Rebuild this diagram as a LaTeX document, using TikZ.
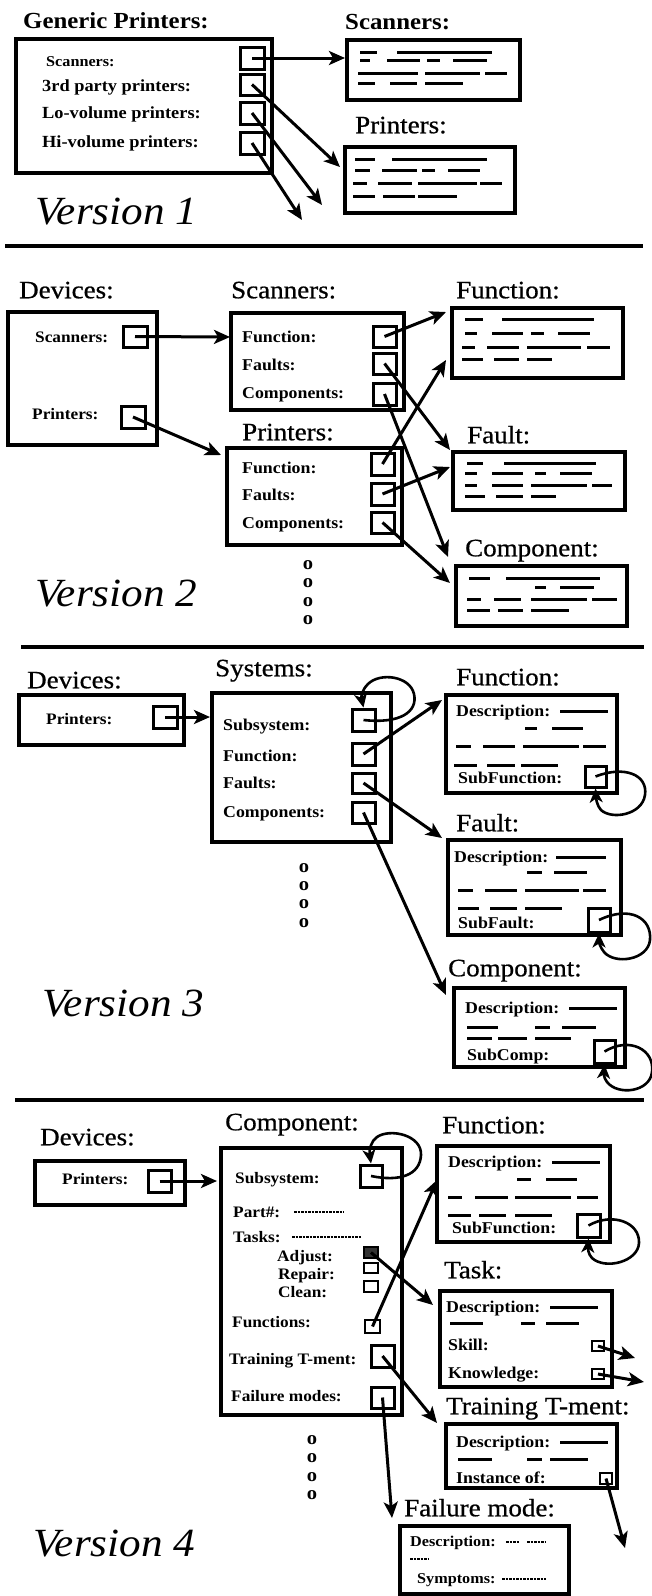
\documentclass[tikz,border=0pt]{standalone}
\usepackage{fontspec}
\setmainfont{Liberation Serif}[FakeStretch=1.08]
\newfontfamily\ttlfont{Liberation Serif}[FakeStretch=1.08, FakeBold=0.7]
\usetikzlibrary{arrows.meta,fit}
\newcommand\tlseg[3]{\draw[tl] (#1,#3) -- (#2,#3);}
\tikzset{
  box/.style={draw, line width=3.3pt, inner sep=0pt},
  sq/.style={draw, line width=3pt, inner sep=0pt},
  sqs/.style={draw, line width=2.6pt, inner sep=0pt},
  ttl/.style={anchor=west, inner sep=0pt, font=\fontsize{25}{25}\ttlfont, text height=18pt, text depth=1.5pt},
  ttlb/.style={anchor=west, inner sep=0pt, font=\fontsize{23}{23}\selectfont\bfseries, text height=16.5pt, text depth=1.5pt},
  lab/.style={anchor=west, inner sep=0pt, font=\fontsize{16.5}{16.5}\selectfont\bfseries, text height=12pt, text depth=1.5pt},
  labl/.style={anchor=west, inner sep=0pt, font=\fontsize{17}{17}\selectfont\bfseries, text height=12.5pt, text depth=1.5pt},
  labs/.style={anchor=west, inner sep=0pt, font=\fontsize{16}{16}\selectfont\bfseries, text height=11.5pt, text depth=1.5pt},
  labxs/.style={anchor=west, inner sep=0pt, font=\fontsize{15}{15}\selectfont\bfseries, text height=11pt, text depth=1.5pt},
  ver/.style={anchor=west, inner sep=0pt, font=\fontsize{40}{40}\selectfont\itshape, text height=28pt, text depth=1.5pt},
  odot/.style={inner sep=0pt, font=\fontsize{19}{19}\selectfont\bfseries},
  arr/.style={line width=3pt, -{Stealth[length=16pt,width=14pt,inset=4pt]}},
  selfarr/.style={line width=2.6pt, -{Stealth[length=14pt,width=13pt,inset=4pt]}},
  tl/.style={line width=3pt},
  dashln/.style={line width=1.4pt, dash pattern=on 2.5pt off 1pt},
  sepline/.style={line width=4.5pt},
}
\begin{document}
\begin{tikzpicture}[x=1pt,y=-1pt]
\useasboundingbox (0,0) rectangle (651,1596);
% ================= Version 1 =================
\node[ttlb] (v1gt) at (23,21) {Generic Printers:};
\node[ttlb] (v1st) at (345,22) {Scanners:};
\node[ttl] (v1pt) at (355,125) {Printers:};
\node[box, fit={(16,39)(272,173)}] (v1g) {};
\node[labxs] (v1l1) at (46,62) {Scanners:};
\node[labl] (v1l2) at (42,86) {3rd party printers:};
\node[labl] (v1l3) at (42,113) {Lo-volume printers:};
\node[labl] (v1l4) at (42,142) {Hi-volume printers:};
\node[sq, fit={(240,47)(264,69)}] (v1s1) {};
\node[sq, fit={(240,74)(264,95)}] (v1s2) {};
\node[sq, fit={(240,102)(264,124)}] (v1s3) {};
\node[sq, fit={(240,132)(264,154)}] (v1s4) {};
\node[box, fit={(347,40)(520,100)}] (v1sb) {};
\node[box, fit={(345,147)(515,213)}] (v1pb) {};
\tlseg{360}{377}{52}\tlseg{397}{492}{52}
\tlseg{360}{370}{60}\tlseg{387}{420}{60}\tlseg{427}{440}{60}\tlseg{453}{487}{60}
\tlseg{358}{418}{73}\tlseg{425}{480}{73}\tlseg{485}{507}{73}
\tlseg{358}{375}{83}\tlseg{390}{417}{83}\tlseg{425}{463}{83}
\tlseg{355}{375}{159}\tlseg{392}{487}{159}
\tlseg{355}{370}{170}\tlseg{382}{417}{170}\tlseg{422}{435}{170}\tlseg{448}{480}{170}
\tlseg{353}{367}{183}\tlseg{378}{412}{183}\tlseg{418}{477}{183}\tlseg{480}{502}{183}
\tlseg{353}{375}{196}\tlseg{383}{415}{196}\tlseg{418}{457}{196}
\coordinate (v1a1) at (345,58);
\coordinate (v1a2) at (340,167);
\coordinate (v1a3) at (322,205);
\coordinate (v1a4) at (302,220);
\draw[arr] (v1s1.center) -- (v1a1);
\draw[arr] (v1s2.center) -- (v1a2);
\draw[arr] (v1s3.center) -- (v1a3);
\draw[arr] (v1s4.center) -- (v1a4);
\node[ver] (v1v) at (35,211) {Version 1};
\draw[sepline] (5,246) -- (643,246);
% ================= Version 2 =================
\node[ttl] (v2dt) at (19,290) {Devices:};
\node[ttl] (v2st) at (231,290) {Scanners:};
\node[ttl] (v2ft) at (456,290) {Function:};
\node[ttl] (v2pt) at (242,432) {Printers:};
\node[ttl] (v2flt) at (467,435) {Fault:};
\node[ttl] (v2ct) at (465,548) {Component:};
\node[box, fit={(8,312)(157,445)}] (v2d) {};
\node[labs] (v2dl1) at (35,337) {Scanners:};
\node[labs] (v2dl2) at (32,414) {Printers:};
\node[sq, fit={(123,326)(147,347)}] (v2ds) {};
\node[sq, fit={(121,406)(145,428)}] (v2dp) {};
\node[box, fit={(231,313)(404,410)}] (v2s) {};
\node[lab] (v2sl1) at (242,337) {Function:};
\node[lab] (v2sl2) at (242,365) {Faults:};
\node[lab] (v2sl3) at (242,393) {Components:};
\node[sq, fit={(373,326)(396,347)}] (v2s1) {};
\node[sq, fit={(373,353)(396,374)}] (v2s2) {};
\node[sq, fit={(373,383)(396,405)}] (v2s3) {};
\node[box, fit={(227,448)(402,545)}] (v2p) {};
\node[lab] (v2pl1) at (242,468) {Function:};
\node[lab] (v2pl2) at (242,495) {Faults:};
\node[lab] (v2pl3) at (242,523) {Components:};
\node[sq, fit={(371,453)(394,475)}] (v2p1) {};
\node[sq, fit={(371,483)(394,505)}] (v2p2) {};
\node[sq, fit={(371,512)(394,533)}] (v2p3) {};
\node[box, fit={(452,308)(623,378)}] (v2f) {};
\node[box, fit={(453,452)(625,510)}] (v2fl) {};
\node[box, fit={(456,566)(627,626)}] (v2c) {};
\tlseg{465}{483}{319}\tlseg{502}{594}{319}
\tlseg{465}{477}{333}\tlseg{492}{523}{333}\tlseg{531}{544}{333}\tlseg{558}{590}{333}
\tlseg{462}{475}{347}\tlseg{487}{519}{347}\tlseg{527}{581}{347}\tlseg{587}{610}{347}
\tlseg{462}{483}{359}\tlseg{494}{519}{359}\tlseg{527}{552}{359}
\tlseg{467}{483}{463}\tlseg{504}{596}{463}
\tlseg{465}{477}{473}\tlseg{492}{523}{473}\tlseg{535}{546}{473}\tlseg{560}{592}{473}
\tlseg{465}{477}{485}\tlseg{492}{523}{485}\tlseg{531}{587}{485}\tlseg{592}{612}{485}
\tlseg{465}{485}{496}\tlseg{496}{523}{496}\tlseg{531}{556}{496}
\tlseg{469}{490}{578}\tlseg{506}{600}{578}
\tlseg{535}{546}{587}\tlseg{560}{594}{587}
\tlseg{467}{481}{599}\tlseg{494}{521}{599}\tlseg{531}{587}{599}\tlseg{592}{617}{599}
\tlseg{467}{490}{610}\tlseg{498}{523}{610}\tlseg{531}{569}{610}
\coordinate (v2a1) at (230,337);
\coordinate (v2a2) at (221,455);
\coordinate (v2a3) at (446,312);
\coordinate (v2a4) at (450,450);
\coordinate (v2a5) at (448,557);
\coordinate (v2a6) at (446,360);
\coordinate (v2a7) at (450,467);
\coordinate (v2a8) at (450,583);
\draw[arr] (v2ds.center) -- (v2a1);
\draw[arr] (v2dp.center) -- (v2a2);
\draw[arr] (v2s1.center) -- (v2a3);
\draw[arr] (v2s2.center) -- (v2a4);
\draw[arr] (v2s3.center) -- (v2a5);
\draw[arr] (v2p1.center) -- (v2a6);
\draw[arr] (v2p2.center) -- (v2a7);
\draw[arr] (v2p3.center) -- (v2a8);
\node[odot] (v2o1) at (308,565) {o};
\node[odot] (v2o2) at (308,583) {o};
\node[odot] (v2o3) at (308,602) {o};
\node[odot] (v2o4) at (308,620) {o};
\node[ver] (v2v) at (35,593) {Version 2};
\draw[sepline] (21,647) -- (644,647);
% ================= Version 3 =================
\node[ttl] (v3dt) at (27,680) {Devices:};
\node[ttl] (v3syt) at (215,668) {Systems:};
\node[ttl] (v3ft) at (456,677) {Function:};
\node[ttl] (v3flt) at (456,823) {Fault:};
\node[ttl] (v3ct) at (448,968) {Component:};
\node[box, fit={(19,695)(184,745)}] (v3d) {};
\node[labs] (v3dl) at (46,719) {Printers:};
\node[sq, fit={(153,706)(177,728)}] (v3dp) {};
\node[box, fit={(212,693)(391,842)}] (v3s) {};
\node[lab] (v3sl1) at (223,725) {Subsystem:};
\node[lab] (v3sl2) at (223,756) {Function:};
\node[lab] (v3sl3) at (223,783) {Faults:};
\node[lab] (v3sl4) at (223,812) {Components:};
\node[sq, fit={(352,709)(375,731)}] (v3s1) {};
\node[sq, fit={(352,743)(375,765)}] (v3s2) {};
\node[sq, fit={(352,773)(375,793)}] (v3s3) {};
\node[sq, fit={(352,802)(375,823)}] (v3s4) {};
% Function box
\node[box, fit={(446,695)(617,793)}] (v3f) {};
\node[lab] (v3fd) at (456,711) {Description:};
\tlseg{560}{608}{711}
\tlseg{525}{537}{728}\tlseg{552}{583}{728}
\tlseg{456}{471}{746}\tlseg{483}{515}{746}\tlseg{523}{579}{746}\tlseg{583}{606}{746}
\tlseg{454}{477}{765}\tlseg{487}{515}{765}\tlseg{521}{558}{765}
\node[lab] (v3fs) at (458,778) {SubFunction:};
\node[sq, fit={(585,766)(606,787)}] (v3fsq) {};
% Fault box
\node[box, fit={(448,840)(621,935)}] (v3fl) {};
\node[lab] (v3fld) at (454,857) {Description:};
\tlseg{556}{606}{857}
\tlseg{527}{542}{872}\tlseg{554}{587}{872}
\tlseg{458}{473}{890}\tlseg{485}{517}{890}\tlseg{525}{579}{890}\tlseg{583}{606}{890}
\tlseg{458}{479}{908}\tlseg{490}{517}{908}\tlseg{525}{562}{908}
\node[lab] (v3fls) at (458,923) {SubFault:};
\node[sq, fit={(588,908)(610,932)}] (v3flsq) {};
% Component box
\node[box, fit={(454,988)(625,1067)}] (v3c) {};
\node[lab] (v3cd) at (465,1008) {Description:};
\tlseg{569}{617}{1008}
\tlseg{467}{498}{1027}\tlseg{535}{550}{1027}\tlseg{562}{596}{1027}
\tlseg{467}{492}{1038}\tlseg{498}{527}{1038}\tlseg{535}{571}{1038}
\node[lab] (v3cs) at (467,1055) {SubComp:};
\node[sq, fit={(594,1040)(615,1063)}] (v3csq) {};
% arrows
\coordinate (v3a1) at (210,717);
\coordinate (v3a2) at (442,700);
\coordinate (v3a3) at (442,838);
\coordinate (v3a4) at (446,995);
\draw[arr] (v3dp.center) -- (v3a1);
\draw[arr] (v3s2.center) -- (v3a2);
\draw[arr] (v3s3.center) -- (v3a3);
\draw[arr] (v3s4.center) -- (v3a4);
\draw[selfarr] (v3s1.center) .. controls (400,724) and (418,712) .. (414,694)
   .. controls (410,676) and (380,672) .. (368,684)
   .. controls (362,690) and (361,696) .. (v3s1.north);
\draw[selfarr] (v3fsq.center) .. controls (625,765) and (648,775) .. (645,795)
   .. controls (642,815) and (612,820) .. (601,810)
   .. controls (597,806) and (596,798) .. (v3fsq.south);
\draw[selfarr] (v3flsq.center) .. controls (630,905) and (652,918) .. (650,940)
   .. controls (648,960) and (615,965) .. (604,952)
   .. controls (600,947) and (599,942) .. (v3flsq.south);
\draw[selfarr] (v3csq.center) .. controls (630,1036) and (655,1050) .. (652,1072)
   .. controls (650,1092) and (618,1096) .. (607,1082)
   .. controls (603,1077) and (604,1072) .. (v3csq.south);
\node[odot] (v3o1) at (304,868) {o};
\node[odot] (v3o2) at (304,886) {o};
\node[odot] (v3o3) at (304,904) {o};
\node[odot] (v3o4) at (304,923) {o};
\node[ver] (v3v) at (42,1003) {Version 3};
\draw[sepline] (15,1100) -- (644,1100);
% ================= Version 4 =================
\node[ttl] (v4dt) at (40,1137) {Devices:};
\node[ttl] (v4cmt) at (225,1122) {Component:};
\node[ttl] (v4ft) at (442,1125) {Function:};
\node[ttl] (v4tt) at (444,1270) {Task:};
\node[ttl] (v4trt) at (446,1406) {Training T-ment:};
\node[ttl] (v4fmt) at (404,1508) {Failure mode:};
\node[box, fit={(35,1161)(185,1205)}] (v4d) {};
\node[labs] (v4dl) at (62,1179) {Printers:};
\node[sq, fit={(148,1170)(171,1192)}] (v4dp) {};
\node[box, fit={(221,1148)(402,1415)}] (v4c) {};
\node[labs] (v4l1) at (235,1178) {Subsystem:};
\node[labs] (v4l2) at (233,1212) {Part\#:};
\draw[dashln] (294,1212) -- (344,1212);
\node[labs] (v4l3) at (233,1237) {Tasks:};
\draw[dashln] (292,1237) -- (362,1237);
\node[labs] (v4l4) at (277,1256) {Adjust:};
\node[labs] (v4l5) at (278,1274) {Repair:};
\node[labs] (v4l6) at (278,1292) {Clean:};
\node[labs] (v4l7) at (232,1322) {Functions:};
\node[labs] (v4l8) at (229,1359) {Training T-ment:};
\node[labs] (v4l9) at (231,1396) {Failure modes:};
\node[sq, fit={(360,1165)(382,1187)}] (v4c1) {};
\node[sqs, fill=black!80, fit={(364,1247)(378,1258)}] (v4ca) {};
\node[sqs, fit={(364,1263)(378,1273)}] (v4cr) {};
\node[sqs, fit={(364,1281)(378,1292)}] (v4cc) {};
\node[sqs, fit={(365,1320)(380,1333)}] (v4cf) {};
\node[sq, fit={(371,1345)(394,1367)}] (v4ct) {};
\node[sq, fit={(371,1387)(394,1408)}] (v4cm) {};
% Function box
\node[box, fit={(437,1146)(610,1242)}] (v4f) {};
\node[lab] (v4fd) at (448,1162) {Description:};
\tlseg{552}{600}{1162}
\tlseg{517}{531}{1179}\tlseg{546}{577}{1179}
\tlseg{448}{462}{1197}\tlseg{475}{508}{1197}\tlseg{515}{571}{1197}\tlseg{577}{598}{1197}
\tlseg{448}{471}{1215}\tlseg{479}{506}{1215}\tlseg{515}{552}{1215}
\node[lab] (v4fs) at (452,1228) {SubFunction:};
\node[sq, fit={(577,1214)(600,1237)}] (v4fsq) {};
% Task box
\node[box, fit={(440,1291)(612,1387)}] (v4t) {};
\node[lab] (v4td) at (446,1307) {Description:};
\tlseg{550}{598}{1307}
\tlseg{450}{483}{1323}\tlseg{521}{535}{1323}\tlseg{546}{579}{1323}
\node[lab] (v4ts) at (448,1345) {Skill:};
\node[lab] (v4tk) at (448,1373) {Knowledge:};
\node[sqs, fit={(592,1341)(604,1351)}] (v4tsq) {};
\node[sqs, fit={(592,1369)(604,1379)}] (v4tkq) {};
% Training box
\node[box, fit={(446,1424)(617,1488)}] (v4tr) {};
\node[lab] (v4trd) at (456,1442) {Description:};
\tlseg{560}{608}{1442}
\tlseg{458}{492}{1459}\tlseg{527}{542}{1459}\tlseg{550}{588}{1459}
\node[lab] (v4tri) at (456,1478) {Instance of:};
\node[sqs, fit={(600,1473)(612,1484)}] (v4trq) {};
% Failure mode box
\node[box, fit={(400,1526)(569,1594)}] (v4fm) {};
\node[labxs] (v4fmd) at (410,1542) {Description:};
\draw[dashln] (506,1542) -- (519,1542);
\draw[dashln] (527,1542) -- (546,1542);
\draw[dashln] (410,1559) -- (429,1559);
\node[labxs] (v4fms) at (417,1579) {Symptoms:};
\draw[dashln] (502,1579) -- (546,1579);
% arrows
\coordinate (v4a0) at (217,1181);
\coordinate (v4a1) at (433,1305);
\coordinate (v4a2) at (437,1180);
\coordinate (v4a3) at (437,1423);
\coordinate (v4a4) at (392,1518);
\coordinate (v4a5) at (635,1358);
\coordinate (v4a6) at (644,1382);
\coordinate (v4a7) at (625,1548);
\draw[arr] (v4dp.center) -- (v4a0);
\draw[arr] (v4ca.center) -- (v4a1);
\draw[arr] (v4cf.center) -- (v4a2);
\draw[arr] (v4ct.center) -- (v4a3);
\draw[arr] (v4cm.center) -- (v4a4);
\draw[arr] (v4tsq.center) -- (v4a5);
\draw[arr] (v4tkq.center) -- (v4a6);
\draw[arr] (v4trq.center) -- (v4a7);
\draw[selfarr] (v4c1.center) .. controls (400,1182) and (420,1175) .. (421,1155)
   .. controls (422,1135) and (390,1128) .. (377,1137)
   .. controls (371,1141) and (369,1150) .. (v4c1.north);
\draw[selfarr] (v4fsq.center) .. controls (612,1212) and (640,1222) .. (639,1243)
   .. controls (638,1262) and (605,1270) .. (592,1258)
   .. controls (588,1254) and (588,1248) .. (v4fsq.south);
\node[odot] (v4o1) at (312,1440) {o};
\node[odot] (v4o2) at (312,1458) {o};
\node[odot] (v4o3) at (312,1477) {o};
\node[odot] (v4o4) at (312,1495) {o};
\node[ver] (v4v) at (33,1543) {Version 4};
\end{tikzpicture}
\end{document}
